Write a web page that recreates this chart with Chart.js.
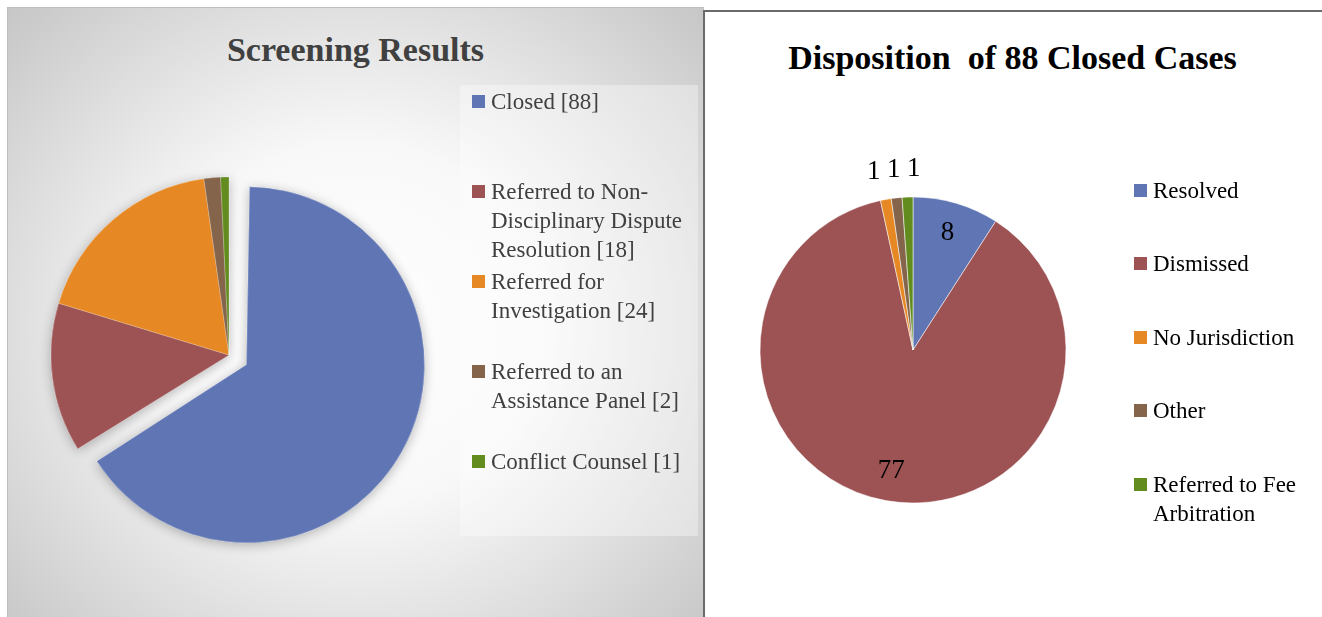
<!DOCTYPE html>
<html>
<head>
<meta charset="utf-8">
<title>Screening Results / Disposition of 88 Closed Cases</title>
<script src="https://cdn.jsdelivr.net/npm/chart.js@4.4.1/dist/chart.umd.min.js"></script>
<style>
  html, body { margin: 0; padding: 0; background: #fff; }
  body { width: 1322px; height: 617px; position: relative; overflow: hidden; font-family: "Liberation Serif", serif; }
  .panel { position: absolute; }
  #left {
    left: 7px; top: 7px; width: 697px; height: 610px;
    background: radial-gradient(ellipse 72% 78% at 50% 52%, #ffffff 0%, #f8f8f8 38%, #c3c3c3 100%);
    box-shadow: inset 1px 1px 0 #bdbdbd;
  }
  #right {
    left: 703px; top: 10px; width: 619px; height: 607px; background: #fff;
    box-shadow: inset 2px 2px 0 #6b6b6b;
  }
  .title { position: absolute; left: 0; width: 100%; text-align: center; font-weight: bold; font-size: 34px; line-height: 40px; white-space: pre; }
  #left .title { top: 23px; color: #404040; }
  #right .title { top: 27.5px; color: #000; }
  canvas { position: absolute; left: 0; top: 0; }
  #leftLegendBg { position: absolute; left: 453px; top: 78px; width: 238px; height: 451px; background: rgba(255,255,255,0.35); }
  .legend { position: absolute; font-size: 23px; line-height: 29px; }
  .legend .item { position: absolute; left: 0; padding-left: 19px; }
  .legend .box { position: absolute; left: 0; top: 8px; width: 13px; height: 13px; }
  #leftLegend { left: 465px; top: 79.7px; color: #404040; }
  #rightLegend { left: 431px; top: 165.7px; color: #000; }
</style>
</head>
<body>

<div class="panel" id="left">
  <div class="title">Screening Results</div>
  <div id="leftLegendBg"></div>
  <canvas id="screening" width="697" height="610"></canvas>
  <div class="legend" id="leftLegend"></div>
</div>

<div class="panel" id="right">
  <div class="title">Disposition  of 88 Closed Cases</div>
  <canvas id="disposition" width="619" height="607"></canvas>
  <div class="legend" id="rightLegend"></div>
</div>

<script>
// data
const screeningCategories = ['Closed', 'Referred to Non-Disciplinary Dispute Resolution', 'Referred for Investigation', 'Referred to an Assistance Panel', 'Conflict Counsel']
const screeningValues = [88, 18, 24, 2, 1]

const dispositionCategories = ['Resolved', 'Dismissed', 'No Jurisdiction', 'Other', 'Referred to Fee Arbitration']
const dispositionValues = [8, 77, 1, 1, 1]

// colours (office 2007 style)
const sliceColors = ['#6076B4', '#9D5253', '#E68823', '#84644A', '#638C1F']

//shadow under the left pie, drawn once so slices don't shade each other
const pieShadow = {
  id: 'pieShadow',
  beforeDatasetsDraw(chart){
    const ctx = chart.ctx
    ctx.save()
    ctx.shadowColor = 'rgba(0,0,0,0.28)'
    ctx.shadowBlur = 12
    ctx.shadowOffsetY = 2
    chart.getDatasetMeta(0).data.forEach(arc => arc.draw(ctx))
    ctx.restore()
  }
}

// chart.js grows big (>180deg) exploded slices by the offset, undo that
const explodeFix = {
  id: 'explodeFix',
  afterDatasetsUpdate(chart){
    chart.getDatasetMeta(0).data.forEach(arc => {
      const off = (arc.options.offset || 0) / 4
      if (off && arc.circumference >= Math.PI) arc.outerRadius -= off
    })
  }
}

// value labels for the right pie
const valueLabels = {
  id: 'valueLabels',
  afterDatasetsDraw(chart){
    const ctx = chart.ctx
    const meta = chart.getDatasetMeta(0)
    const values = chart.data.datasets[0].data
    const inside = []
    const outside = []

    meta.data.forEach((arc, i) => {
      const mid = (arc.startAngle + arc.endAngle) / 2
      const small = (arc.endAngle - arc.startAngle) < 0.3
      const r = small ? arc.outerRadius + 28 : arc.outerRadius * 0.8
      const p = {x: arc.x + Math.cos(mid) * r, y: arc.y + Math.sin(mid) * r, text: String(values[i])}
      if (small) outside.push(p)
      else inside.push(p)
    })

    // spread the small ones so they don't sit on top of each other
    if (outside.length > 1) {
      outside.sort((a, b) => a.x - b.x)
      const cx = outside.reduce((s, p) => s + p.x, 0) / outside.length
      const gap = 20
      outside.forEach((p, k) => { p.x = cx + (k - (outside.length - 1) / 2) * gap })
    }

    ctx.save()
    ctx.font = '27px "Liberation Serif"'
    ctx.fillStyle = '#000'
    ctx.textAlign = 'center'
    ctx.textBaseline = 'middle'
    inside.concat(outside).forEach(p => ctx.fillText(p.text, p.x, p.y))
    ctx.restore()
  }
}

function htmlLegend(el, labels, colors, gap, width){
  el.innerHTML = ''
  labels.forEach((text, i) => {
    const item = document.createElement('div')
    item.className = 'item'
    item.style.top = (i * gap) + 'px'
    item.style.width = width + 'px'
    item.innerHTML = `<span class="box" style="background:${colors[i]}"></span>${text}`
    el.appendChild(item)
  })
}

const screeningLabels = screeningCategories.map((c, i) => `${c} [${screeningValues[i]}]`)

const screeningChart = new Chart(document.getElementById('screening'), {
  type: 'pie',
  data: {
    labels: screeningLabels,
    datasets: [{
      data: screeningValues,
      backgroundColor: sliceColors,
      borderColor: 'rgba(255,255,255,0.5)',
      borderWidth: 0.5,
      offset: [80, 0, 0, 0, 0]
    }]
  },
  options: {
    responsive: false,
    animation: false,
    events: [],
    radius: 178,
    layout: {padding: {left: 0, right: 253, top: 86, bottom: 0}},
    plugins: {legend: {display: false}, tooltip: {enabled: false}}
  },
  plugins: [explodeFix, pieShadow]
})

const dispositionChart = new Chart(document.getElementById('disposition'), {
  type: 'pie',
  data: {
    labels: dispositionCategories,
    datasets: [{
      data: dispositionValues,
      backgroundColor: sliceColors,
      borderColor: 'rgba(255,255,255,0.7)',
      borderWidth: 0.75
    }]
  },
  options: {
    responsive: false,
    animation: false,
    events: [],
    radius: 153,
    layout: {padding: {left: 0, right: 199, top: 73, bottom: 0}},
    plugins: {legend: {display: false}, tooltip: {enabled: false}}
  },
  plugins: [valueLabels]
})

htmlLegend(document.getElementById('leftLegend'), screeningChart.data.labels, sliceColors, 90, 208)
htmlLegend(document.getElementById('rightLegend'), dispositionChart.data.labels, sliceColors, 73.5, 168)
</script>
</body>
</html>
